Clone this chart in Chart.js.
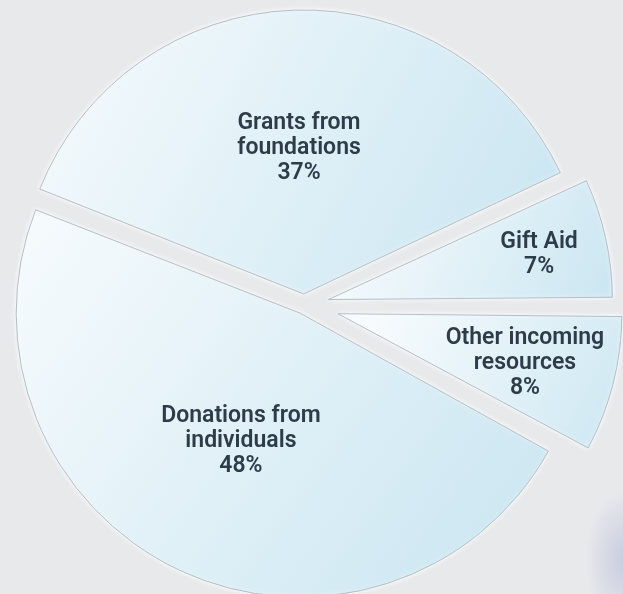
<!DOCTYPE html>
<html>
<head>
<meta charset="utf-8">
<script src="https://cdn.jsdelivr.net/npm/chart.js@4.4.1/dist/chart.umd.min.js"></script>
<style>
    html, body {
        margin: 0;
        padding: 0;
        width: 623px;
        height: 594px;
        overflow: hidden;
        background: #e8e9eb;
    }
    #wrap {
        position: relative;
        width: 623px;
        height: 594px;
        background:
            radial-gradient(ellipse 40px 70px at 625px 560px, rgba(196, 200, 222, 0.9), rgba(196, 200, 222, 0) 100%),
            #e8e9eb;
    }
</style>
</head>
<body>
<div id="wrap">
    <canvas id="income-pie" width="623" height="594"></canvas>
</div>
<script>
    // income split, in percent
    var categories = [
        ['Grants from', 'foundations'],
        ['Gift Aid'],
        ['Other incoming', 'resources'],
        ['Donations from', 'individuals']
    ];
    var shares = [37, 7, 8, 48];

    // how many pixels each slice is pulled out of the pie
    var sliceShift = [11, 25, 35, 9];
    // where the text sits, as a fraction of the radius
    var labelDistance = [0.52, 0.76, 0.68, 0.49];

    var pieRadius = 284;
    var pieRotation = -68.4;
    var toneLight = '#f7fbfd';
    var toneDeep = '#c8e5f1';
    var textColor = '#2e3c49';

    function sliceAngles(i) {
        var total = shares.reduce(function (a, b) { return a + b; }, 0);
        var before = 0;
        for (let k = 0; k < i; k++) {
            before += shares[k];
        }
        var start = (pieRotation - 90) * Math.PI / 180 + before / total * Math.PI * 2;
        var end = start + shares[i] / total * Math.PI * 2;
        return { start: start, end: end, mid: (start + end) / 2 };
    }

    // each slice gets its own light-to-blue gradient across its bounding box
    function sliceFill(context) {
        var chart = context.chart;
        var area = chart.chartArea;
        if (!area) {
            return toneDeep;
        }
        var ang = sliceAngles(context.dataIndex);
        var off = sliceShift[context.dataIndex];
        var cx = (area.left + area.right) / 2 + Math.cos(ang.mid) * off;
        var cy = (area.top + area.bottom) / 2 + Math.sin(ang.mid) * off;

        var xs = [cx, cx + Math.cos(ang.start) * pieRadius, cx + Math.cos(ang.end) * pieRadius];
        var ys = [cy, cy + Math.sin(ang.start) * pieRadius, cy + Math.sin(ang.end) * pieRadius];
        for (let q = -4; q <= 8; q++) {
            var a = q * Math.PI / 2;
            if (a > ang.start && a < ang.end) {
                xs.push(cx + Math.cos(a) * pieRadius);
                ys.push(cy + Math.sin(a) * pieRadius);
            }
        }
        var g = chart.ctx.createLinearGradient(
            Math.min.apply(null, xs), Math.min.apply(null, ys),
            Math.max.apply(null, xs), Math.max.apply(null, ys)
        );
        g.addColorStop(0, toneLight);
        g.addColorStop(1, toneDeep);
        return g;
    }

    // arcs grow by offset * (1 - sin(circumference)) when pulled out;
    // take that back so every slice keeps the same radius.
    // also puts a soft white halo round the slices
    var sliceGlow = {
        id: 'sliceGlow',
        beforeDatasetsDraw: function (chart) {
            var meta = chart.getDatasetMeta(0);
            meta.data.forEach(function (arc, i) {
                var fix = 1 - Math.sin(Math.min(Math.PI, arc.circumference));
                arc.outerRadius = pieRadius - sliceShift[i] * fix;
            });
            var ctx = chart.ctx;
            ctx.save();
            ctx.shadowColor = 'rgba(255, 255, 255, 1)';
            ctx.shadowBlur = 5;
        },
        afterDatasetsDraw: function (chart) {
            chart.ctx.restore();
        }
    };

    var sliceLabels = {
        id: 'sliceLabels',
        afterDraw: function (chart) {
            var ctx = chart.ctx;
            var meta = chart.getDatasetMeta(0);
            var lineHeight = 25;
            ctx.save();
            ctx.fillStyle = textColor;
            ctx.font = '600 23px Roboto, "Open Sans", sans-serif';
            ctx.textAlign = 'center';
            ctx.textBaseline = 'middle';
            meta.data.forEach(function (arc, i) {
                var mid = (arc.startAngle + arc.endAngle) / 2;
                var cx = arc.x + Math.cos(mid) * sliceShift[i];
                var cy = arc.y + Math.sin(mid) * sliceShift[i];
                var x = cx + Math.cos(mid) * pieRadius * labelDistance[i];
                var y = cy + Math.sin(mid) * pieRadius * labelDistance[i] + 2;
                var lines = categories[i].concat([shares[i] + '%']);
                var top = y - (lines.length - 1) * lineHeight / 2;
                lines.forEach(function (line, j) {
                    ctx.fillText(line, x, top + j * lineHeight);
                });
            });
            ctx.restore();
        }
    };

    var ctx = document.getElementById('income-pie').getContext('2d');
    var config = {
        type: 'pie',
        data: {
            labels: categories,
            datasets: [{
                data: shares,
                backgroundColor: sliceFill,
                borderColor: '#b3bec5',
                borderWidth: 1,
                // Chart.js moves an arc by a quarter of its offset
                offset: sliceShift.map(function (s) { return s * 4; })
            }]
        },
        options: {
            responsive: false,
            animation: false,
            rotation: pieRotation,
            radius: pieRadius,
            layout: {
                padding: { left: 0, right: 15, top: 16, bottom: 0 }
            },
            plugins: {
                legend: { display: false },
                tooltip: { enabled: false }
            }
        },
        plugins: [sliceGlow, sliceLabels]
    };
    var incomePie = new Chart(ctx, config);
</script>
</body>
</html>
